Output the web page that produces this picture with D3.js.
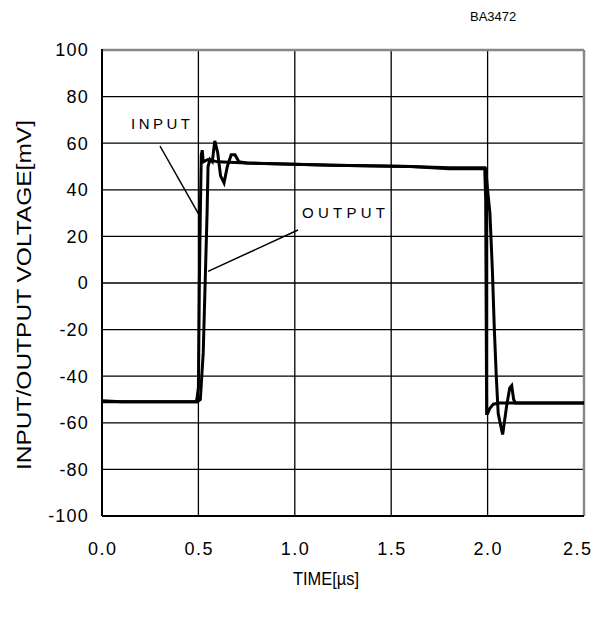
<!DOCTYPE html>
<html><head><meta charset="utf-8">
<script src="https://cdn.jsdelivr.net/npm/d3@7"></script>
<style>body{margin:0;background:#fff}svg{display:block}text{font-family:Arial,"Liberation Sans",sans-serif;fill:#000}</style>
</head><body>
<svg id="c" width="596" height="621"></svg>
<script>
const xTicks = [0.0, 0.5, 1.0, 1.5, 2.0, 2.5];
const yTicks = [100, 80, 60, 40, 20, 0, -20, -40, -60, -80, -100];
const inputT = [0, 0.1, 0.49, 0.5, 0.505, 0.51, 0.515, 0.52, 0.525, 0.55, 0.6, 0.75, 1.2, 1.6, 1.8, 1.985, 1.99, 1.995, 2.0, 2.01, 2.03, 2.06, 2.5];
const inputV = [-50.5, -51, -51, -45, 0, 30, 55, 57, 52, 53, 52, 51.5, 50.5, 50, 49.5, 49.5, 36, -56, -56, -54, -52, -51.5, -51.5];
const outputT = [0, 0.495, 0.51, 0.525, 0.535, 0.545, 0.55, 0.56, 0.572, 0.585, 0.6, 0.615, 0.633, 0.65, 0.67, 0.69, 0.71, 0.75, 1.2, 1.6, 1.8, 1.99, 2.0, 2.012, 2.025, 2.035, 2.045, 2.055, 2.07, 2.078, 2.09, 2.1, 2.115, 2.125, 2.135, 2.145, 2.5];
const outputV = [-51, -51, -50, -30, 0, 30, 50, 53, 52, 61, 56, 46, 43, 50, 55, 55, 52, 51.5, 50.5, 50, 49, 49, 40, 30, 5, -20, -40, -56, -62, -65, -58, -52, -45, -44, -50, -51.5, -51.5];

const svg = d3.select("#c");
const L = 102, R = 584, T = 50, B = 516;
const x = d3.scaleLinear().domain([0, 2.5]).range([L, R]);
const y = d3.scaleLinear().domain([-100, 100]).range([B, T]);

// grid
svg.append("g").selectAll("line").data(xTicks.slice(1, -1)).join("line")
  .attr("x1", d => x(d)).attr("x2", d => x(d)).attr("y1", T).attr("y2", B)
  .attr("stroke", "#000").attr("stroke-width", 1.3);
svg.append("g").selectAll("line").data(yTicks.slice(1, -1)).join("line")
  .attr("x1", L).attr("x2", R).attr("y1", d => y(d)).attr("y2", d => y(d))
  .attr("stroke", "#000").attr("stroke-width", 1.3);

// frame
svg.append("line").attr("x1", L).attr("x2", R).attr("y1", T).attr("y2", T).attr("stroke", "#888").attr("stroke-width", 2.5);
svg.append("line").attr("x1", R).attr("x2", R).attr("y1", T).attr("y2", B).attr("stroke", "#888").attr("stroke-width", 2.5);
svg.append("line").attr("x1", L).attr("x2", R).attr("y1", B).attr("y2", B).attr("stroke", "#000").attr("stroke-width", 2);
svg.append("line").attr("x1", L).attr("x2", L).attr("y1", T - 1).attr("y2", B).attr("stroke", "#000").attr("stroke-width", 2);

// axes labels
svg.append("g").selectAll("text").data(yTicks).join("text")
  .attr("x", 89).attr("y", d => y(d)).attr("dy", "0.36em").attr("text-anchor", "end")
  .attr("font-size", 18).attr("letter-spacing", 1.2).text(d => d);
svg.append("g").selectAll("text").data(xTicks).join("text")
  .attr("x", d => Math.min(x(d), 577) + 0.75).attr("y", 555).attr("text-anchor", "middle")
  .attr("font-size", 18).attr("letter-spacing", 1.5).text(d => d.toFixed(1));

svg.append("text").attr("x", 326).attr("y", 585).attr("text-anchor", "middle")
  .attr("font-size", 18).attr("textLength", 66).attr("lengthAdjust", "spacingAndGlyphs").text("TIME[µs]");
svg.append("text").attr("transform", `translate(31,295) rotate(-90)`)
  .attr("text-anchor", "middle").attr("font-size", 20)
  .attr("textLength", 350).attr("lengthAdjust", "spacingAndGlyphs").text("INPUT/OUTPUT VOLTAGE[mV]");
svg.append("text").attr("x", 470).attr("y", 21).attr("font-size", 13).text("BA3472");

// data lines
const line = d3.line().x(d => x(d[0])).y(d => y(d[1]));
svg.append("path").datum(inputT.map((t, i) => [t, inputV[i]]))
  .attr("d", line).attr("fill", "none").attr("stroke", "#000").attr("stroke-width", 3).attr("stroke-linejoin", "miter");
svg.append("path").datum(outputT.map((t, i) => [t, outputV[i]]))
  .attr("d", line).attr("fill", "none").attr("stroke", "#000").attr("stroke-width", 3).attr("stroke-linejoin", "miter");

// annotations
svg.append("text").attr("x", 131).attr("y", 129).attr("font-size", 15)
  .attr("textLength", 59).attr("lengthAdjust", "spacing").text("INPUT");
svg.append("line").attr("x1", 160).attr("y1", 146).attr("x2", x(0.505)).attr("y2", y(29))
  .attr("stroke", "#000").attr("stroke-width", 1.5);
svg.append("text").attr("x", 302).attr("y", 218).attr("font-size", 15)
  .attr("textLength", 83).attr("lengthAdjust", "spacing").text("OUTPUT");
svg.append("line").attr("x1", 298).attr("y1", 230).attr("x2", x(0.55)).attr("y2", y(5))
  .attr("stroke", "#000").attr("stroke-width", 1.5);
</script>
</body></html>
